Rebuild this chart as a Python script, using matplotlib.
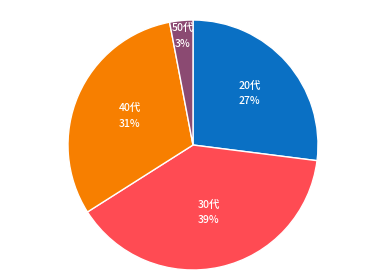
import matplotlib
matplotlib.use("Agg")
import matplotlib.pyplot as plt
import numpy as np

plt.rcParams['font.family'] = ['Noto Sans CJK JP', 'DejaVu Sans']

categories = ["20代", "30代", "40代", "50代"]
values = [27, 39, 31, 3]
colors = ["#0a70c4", "#ff4b53", "#f77f00", "#8b4a72"]
label_r = [0.6, 0.57, 0.55, 0.86]

fig = plt.figure(figsize=(3.84, 2.79), dpi=100)
ax = fig.add_axes([0, 0, 1, 1])
cx, cy, R = 193, 279 - 145, 125

wedges, _ = ax.pie(values, colors=colors, startangle=90, counterclock=False,
                   center=(cx, cy), radius=R,
                   wedgeprops=dict(edgecolor='white', linewidth=1.0))
ax.set_xlim(0, 384)
ax.set_ylim(0, 279)
ax.set_aspect('equal')
ax.axis('off')

for w, cat, v, lr in zip(wedges, categories, values, label_r):
    ang = np.deg2rad((w.theta1 + w.theta2) / 2)
    x = cx + lr * R * np.cos(ang)
    y = cy + lr * R * np.sin(ang)
    ax.text(x, y + 2, f"{cat}\n{v}%", ha='center', va='center', color='white',
            fontsize=7.5, fontweight='medium', linespacing=1.7)

fig.savefig("out.png", dpi=100)
